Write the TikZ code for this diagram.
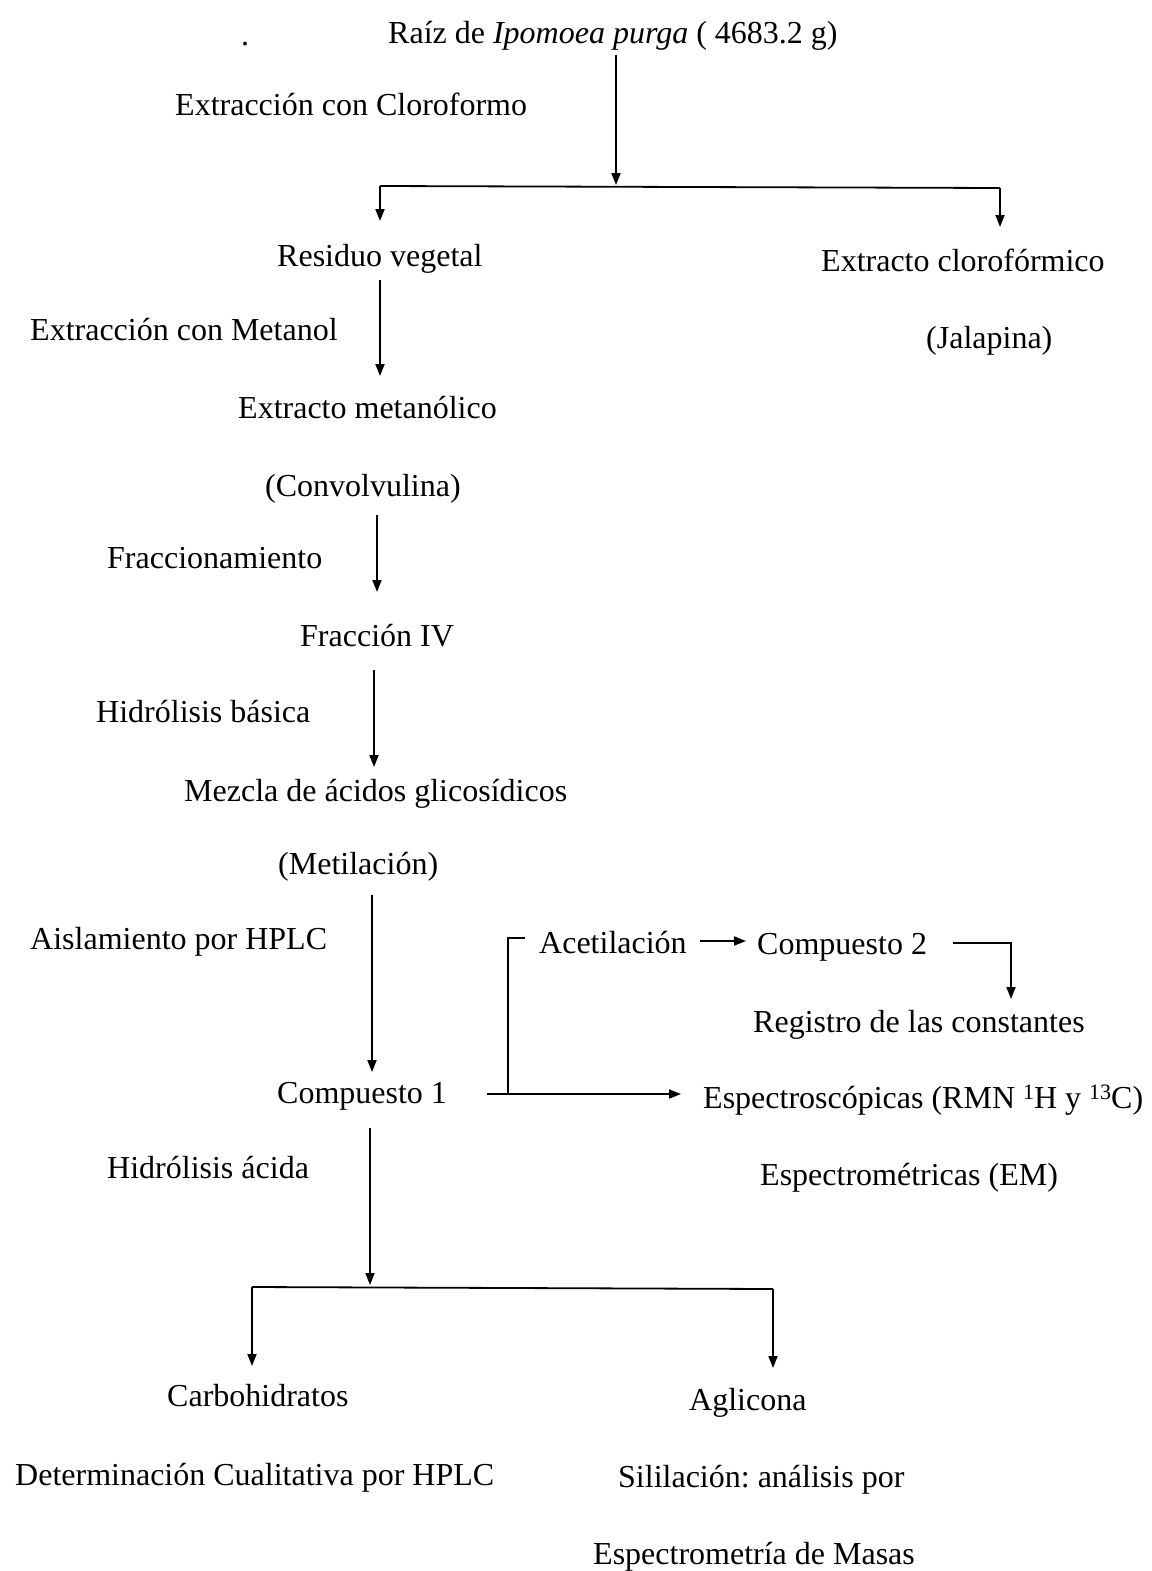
\documentclass[tikz,border=0pt]{standalone}
\usepackage{fontspec}
\setmainfont{Liberation Serif}
\usetikzlibrary{arrows.meta}
\frenchspacing
\begin{document}
\begin{tikzpicture}[x=1pt,y=-1pt,
  lbl/.style={anchor=base west,inner sep=0pt,font=\fontsize{32}{38}\selectfont},
  ln/.style={line width=1.8pt},
  arr/.style={line width=1.8pt,-{Triangle[length=12pt,width=9pt]}}]
\useasboundingbox[fill=white] (0,0) rectangle (1151,1571);
% texts
\node[lbl] (dot) at (241,46) {.};
\node[lbl] (raiz) at (388,44) {Raíz de \textit{Ipomoea purga} ( 4683.2 g)};
\node[lbl] (excl) at (175,115) {Extracción con Cloroformo};
\node[lbl] (resid) at (277,266) {Residuo vegetal};
\node[lbl] (extcl) at (821,271) {Extracto clorofórmico};
\node[lbl] (exme) at (30,340) {Extracción con Metanol};
\node[lbl] (jala) at (926,348) {(Jalapina)};
\node[lbl] (extme) at (238,418) {Extracto metanólico};
\node[lbl] (conv) at (265,496) {(Convolvulina)};
\node[lbl] (frac) at (107,568) {Fraccionamiento};
\node[lbl] (fiv) at (300,646) {Fracción IV};
\node[lbl] (hbas) at (96,722) {Hidrólisis básica};
\node[lbl] (mezc) at (184,801) {Mezcla de ácidos glicosídicos};
\node[lbl] (meti) at (278,874) {(Metilación)};
\node[lbl] (aisl) at (30,949) {Aislamiento por HPLC};
\node[lbl] (acet) at (539,953) {Acetilación};
\node[lbl] (comp2) at (757,954) {Compuesto 2};
\node[lbl] (regi) at (753,1032) {Registro de las constantes};
\node[lbl] (comp1) at (277,1103) {Compuesto 1};
\node[lbl] (espc) at (703,1108) {Espectroscópicas (RMN {\fontsize{22}{26}\selectfont\raisebox{9pt}{1}}H y {\fontsize{22}{26}\selectfont\raisebox{9pt}{13}}C)};
\node[lbl] (hac) at (107,1178) {Hidrólisis ácida};
\node[lbl] (espm) at (760,1185) {Espectrométricas (EM)};
\node[lbl] (carb) at (167,1406) {Carbohidratos};
\node[lbl] (agli) at (689,1410) {Aglicona};
\node[lbl] (dete) at (15,1485) {Determinación Cualitativa por HPLC};
\node[lbl] (sili) at (618,1487) {Sililación: análisis por};
\node[lbl] (emas) at (593,1564) {Espectrometría de Masas};
% junction coordinates
\coordinate (r0) at (616,55);
\coordinate (r1) at (616,185);
\coordinate (bL) at (380,186);
\coordinate (bR) at (1000,188);
\coordinate (bLe) at (380,221);
\coordinate (bRe) at (1000,227);
\coordinate (a1s) at (380,280);
\coordinate (a1e) at (380,376);
\coordinate (a2s) at (377,515);
\coordinate (a2e) at (377,592);
\coordinate (a3s) at (374,670);
\coordinate (a3e) at (374,767);
\coordinate (a4s) at (372,895);
\coordinate (a4e) at (372,1072);
\coordinate (c1r) at (487,1094);
\coordinate (c1j) at (508,1094);
\coordinate (c1e) at (681,1094);
\coordinate (acj) at (508,938);
\coordinate (ace) at (525,938);
\coordinate (ars) at (700,941);
\coordinate (are) at (746,941);
\coordinate (c2s) at (953,943);
\coordinate (c2j) at (1011,943);
\coordinate (c2e) at (1011,999);
\coordinate (d0) at (370,1128);
\coordinate (d1) at (370,1285);
\coordinate (eL) at (252,1287);
\coordinate (eR) at (773,1289);
\coordinate (eLe) at (252,1366);
\coordinate (eRe) at (773,1368);
% connectors
\draw[arr] (r0) -- (r1);
\draw[ln] (bLe |- bL) -- (bL) -- (bR);
\draw[arr] (bL) -- (bLe);
\draw[arr] (bR) -- (bRe);
\draw[arr] (a1s) -- (a1e);
\draw[arr] (a2s) -- (a2e);
\draw[arr] (a3s) -- (a3e);
\draw[arr] (a4s) -- (a4e);
\draw[arr] (c1r) -- (c1e);
\draw[ln] (c1j) -- (acj) -- (ace);
\draw[arr] (ars) -- (are);
\draw[arr] (c2s) -- (c2j) -- (c2e);
\draw[arr] (d0) -- (d1);
\draw[ln] (eL) -- (eR);
\draw[arr] (eL) -- (eLe);
\draw[arr] (eR) -- (eRe);
\end{tikzpicture}
\end{document}
